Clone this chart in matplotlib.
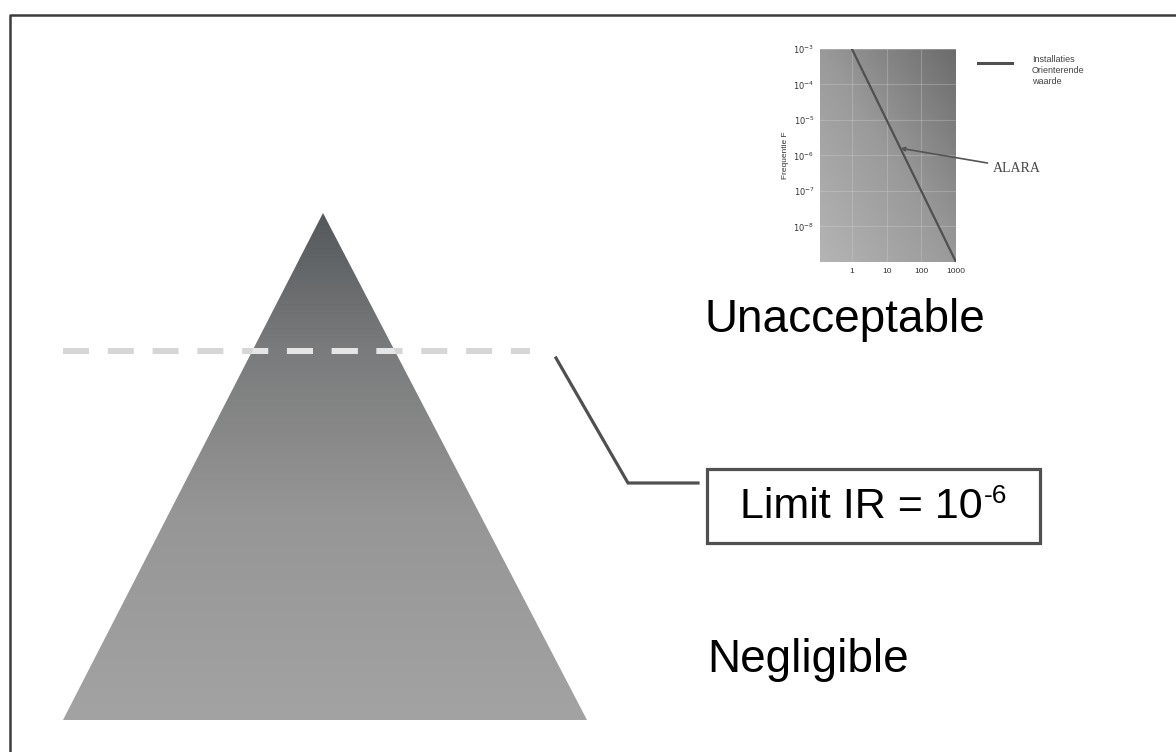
import numpy as np
import matplotlib
matplotlib.use("Agg")
import matplotlib.pyplot as plt
from matplotlib.colors import LinearSegmentedColormap
from matplotlib.patches import Polygon, Rectangle

plt.rcParams['font.family'] = ['Liberation Sans', 'DejaVu Sans']

# Inset: F-N curve (orientation value 1e-3 / N^2)
group_size = [1, 10, 100, 1000]
frequency = [1e-3, 1e-5, 1e-7, 1e-9]
x_ticks = [1, 10, 100, 1000]
x_labels = ['1', '10', '100', '1000']
y_ticks = [1e-3, 1e-4, 1e-5, 1e-6, 1e-7, 1e-8]
y_labels = ['$10^{-3}$', '$10^{-4}$', '$10^{-5}$', '$10^{-6}$', '$10^{-7}$', '$10^{-8}$']
alara_point = (25, 1.6e-6)
legend_text = "Installaties\nOrienterende\nwaarde"

# Main diagram labels
label_top = "Unacceptable"
label_bottom = "Negligible"
limit_text = "Limit IR = 10"
limit_exp = "-6"

fig = plt.figure(figsize=(11.76, 7.52), dpi=100)
ax = fig.add_axes([0, 0, 1, 1])
ax.set_xlim(0, 1176)
ax.set_ylim(752, 0)
ax.axis('off')

# frame (top + left only, rest is cut off)
ax.plot([10, 10, 1176], [752, 15, 15], color='#3c3c3c', lw=1.8,
        solid_capstyle='butt', zorder=1)

# pyramid with vertical gradient
tri = Polygon([[323, 213], [63, 720], [587, 720]], closed=True,
              facecolor='none', edgecolor='none')
ax.add_patch(tri)
cmap_tri = LinearSegmentedColormap.from_list(
    'tri', [(0, '#55595c'), (0.27, '#7a7b7c'), (0.6, '#969696'), (1, '#a3a3a3')])
grad = np.linspace(0, 1, 256).reshape(-1, 1)
im = ax.imshow(grad, cmap=cmap_tri, extent=[63, 587, 720, 213],
               aspect='auto', zorder=2, interpolation='bilinear')
im.set_clip_path(tri)
ax.set_xlim(0, 1176)
ax.set_ylim(752, 0)

# dashed limit line
ln, = ax.plot([63, 530], [351, 351], color='#d6d6d6', lw=4.3,
              solid_capstyle='butt', zorder=3)
ln.set_dashes((4.35, 3.15))
ln.set_dash_capstyle('butt')
ln2, = ax.plot([63, 530], [351, 351], color='#e6e6e6', lw=4.3, zorder=4)
ln2.set_dashes((4.35, 3.15))
ln2.set_dash_capstyle('butt')
ln2.set_clip_path(tri)

# connector to limit box
ax.plot([556, 628, 698], [358, 483, 483], color='#505050', lw=2.3,
        solid_joinstyle='miter', zorder=3)
ax.add_patch(Rectangle((707, 469), 333, 74, facecolor='white',
                       edgecolor='#505050', lw=2.3, zorder=3))
t = ax.text(740, 518, limit_text, fontsize=31, ha='left', va='baseline',
            color='black', zorder=4)
ax.annotate(limit_exp, xy=(1.0, 484), xycoords=(t, 'data'), fontsize=19,
            ha='left', va='top', color='black', zorder=4,
            xytext=(1, 0), textcoords='offset points')

ax.text(845, 320, label_top, fontsize=33, ha='center', va='center', color='black')
ax.text(808, 660, label_bottom, fontsize=33, ha='center', va='center', color='black')

# inset F-N chart
ax_in = fig.add_axes([820 / 1176, 1 - 262 / 752, 136 / 1176, 213 / 752])
ax_in.set_xscale('log')
ax_in.set_yscale('log')
ax_in.set_xlim(0.12, 1000)
ax_in.set_ylim(1e-9, 1e-3)
cmap_in = LinearSegmentedColormap.from_list('bg', ['#b4b4b4', '#9a9a9a', '#6c6c6c'])
xx, yy = np.meshgrid(np.linspace(0, 1, 100), np.linspace(0, 1, 100))
ax_in.imshow((xx + yy) / 2, cmap=cmap_in, extent=[0, 1, 0, 1], origin='lower',
             transform=ax_in.transAxes, aspect='auto', zorder=0)
ax_in.set_xticks(x_ticks)
ax_in.set_xticklabels(x_labels)
ax_in.set_yticks(y_ticks)
ax_in.set_yticklabels(y_labels)
ax_in.minorticks_off()
ax_in.tick_params(length=0, labelsize=6, labelcolor='#333333', pad=4)
ax_in.grid(True, color='#d8d8d8', alpha=0.3, lw=0.8)
ax_in.set_axisbelow(False)
for s in ax_in.spines.values():
    s.set_visible(False)
ax_in.set_ylabel("Frequentie F", fontsize=6, color='#333333', labelpad=3)
ax_in.plot(group_size, frequency, color='#505050', lw=1.6, zorder=3)

ax_in.annotate("ALARA", xy=alara_point, xycoords='data',
               xytext=(993, 168), textcoords=ax.transData,
               fontsize=10, family='Liberation Serif', color='#444444',
               ha='left', va='center', annotation_clip=False,
               arrowprops=dict(arrowstyle='-|>', color='#555555', lw=1.2,
                               mutation_scale=6, shrinkA=2, shrinkB=0))

# legend
ax.plot([978, 1012], [63, 63], color='#505050', lw=2.2)
ax.text(1032, 55, legend_text, fontsize=6.5, color='#444444', ha='left',
        va='top', linespacing=1.25)

fig.savefig("out.png", dpi=100)
